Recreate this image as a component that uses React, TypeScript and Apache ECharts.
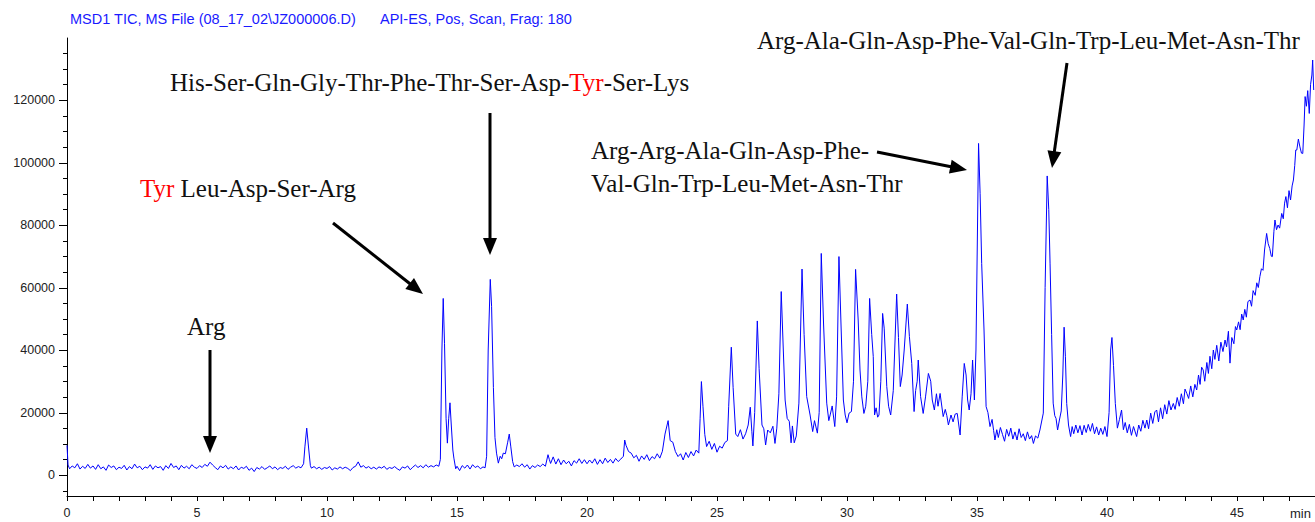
import React, { useEffect, useRef } from "react";
import * as echarts from "echarts";

// Total ion chromatogram, [retention time (min), intensity]
const ticSegmentA: [number, number][] = [
  [0.0, 9500], [0.04, 3200], [0.1, 2000], [0.2, 2900], [0.3, 2300], [0.4, 3600], [0.5, 1900], [0.6, 2800],
  [0.7, 2100], [0.8, 3400], [0.9, 2200], [1.0, 2900], [1.1, 1800], [1.2, 3300], [1.3, 2000], [1.4, 2600],
  [1.5, 1500], [1.6, 3200], [1.7, 2400], [1.8, 2900], [1.9, 1700], [2.0, 2500], [2.1, 2100], [2.2, 3100],
  [2.3, 1600], [2.4, 2700], [2.5, 2000], [2.6, 3500], [2.7, 2300], [2.8, 2800], [2.9, 1700], [3.0, 2600],
  [3.1, 2200], [3.2, 3300], [3.3, 1800], [3.4, 2900], [3.5, 2300], [3.6, 2700], [3.7, 1500], [3.8, 3000],
  [3.9, 2100], [4.0, 3700], [4.1, 2400], [4.2, 2900], [4.3, 1700], [4.4, 3100], [4.5, 2200], [4.6, 2800],
  [4.7, 2000], [4.8, 3300], [4.9, 2500], [5.0, 2100], [5.1, 3000], [5.2, 2400], [5.3, 3400], [5.4, 2800],
  [5.5, 4100], [5.6, 3200], [5.7, 2400], [5.8, 1700], [5.9, 2900], [6.0, 2300], [6.1, 3100], [6.2, 1900],
  [6.3, 2600], [6.4, 2000], [6.5, 2900], [6.6, 1600], [6.7, 2500], [6.8, 2100], [6.9, 2800], [7.0, 1500],
  [7.1, 2200], [7.2, 1100], [7.3, 2400], [7.4, 1900], [7.5, 2700], [7.6, 1800], [7.7, 2300], [7.8, 2900],
  [7.9, 2000], [8.0, 2600], [8.1, 1700], [8.2, 2400], [8.3, 2100], [8.4, 2800], [8.5, 1800], [8.6, 2500],
  [8.7, 3000], [8.8, 2200], [8.9, 2700], [9.0, 2300], [9.1, 3600], [9.15, 9000], [9.22, 15000], [9.3, 8000],
  [9.36, 3000], [9.4, 2200], [9.5, 2700], [9.6, 2000], [9.7, 2500], [9.8, 1800], [9.9, 2400], [10.0, 2100],
  [10.1, 2700], [10.2, 1600], [10.3, 2300], [10.4, 1900], [10.5, 2600], [10.6, 2000], [10.7, 2500], [10.8, 2100],
  [10.9, 1400], [11.0, 2400], [11.1, 2800], [11.2, 4200], [11.3, 2500], [11.4, 3000], [11.5, 2200], [11.6, 2700],
  [11.7, 2000], [11.8, 2500], [11.9, 1900], [12.0, 2600], [12.1, 2200], [12.2, 2800], [12.3, 1800], [12.4, 2400],
  [12.5, 2100], [12.6, 2700], [12.7, 2000], [12.8, 1500], [12.9, 2600], [13.0, 2200], [13.1, 2900], [13.2, 1700],
  [13.3, 2500], [13.4, 3200], [13.5, 2400], [13.6, 3000], [13.7, 2300], [13.8, 3300], [13.9, 2500], [14.0, 3000],
  [14.1, 2600], [14.2, 3200], [14.3, 2800],
];

const ticSegmentB: [number, number][] = [
  [14.36, 5000], [14.42, 40000], [14.47, 56500], [14.52, 42000], [14.58, 18000], [14.63, 10200], [14.68, 18000],
  [14.73, 23100], [14.78, 16000], [14.84, 8000], [14.88, 5400], [14.95, 2000], [15.0, 2800], [15.1, 1400],
  [15.2, 3000], [15.3, 2200], [15.4, 3200], [15.5, 1900], [15.6, 3300], [15.7, 2400], [15.8, 2900], [15.9, 2000],
  [16.0, 2600], [16.08, 2300], [16.14, 6000], [16.2, 40000], [16.28, 62600], [16.33, 54000], [16.4, 28000],
  [16.46, 12000], [16.52, 7000], [16.59, 3800], [16.66, 6000], [16.72, 5200], [16.78, 7000], [16.86, 6800],
  [16.95, 10500], [17.01, 13100], [17.07, 9000], [17.14, 4300], [17.2, 2600], [17.3, 3200], [17.4, 2700],
  [17.5, 3600], [17.6, 2500], [17.7, 3300], [17.8, 1900], [17.9, 3000], [18.0, 2400], [18.1, 3200], [18.2, 2700],
  [18.3, 3500], [18.4, 2800], [18.5, 6500], [18.55, 5000], [18.6, 3700], [18.7, 5800], [18.8, 3500], [18.9, 5200],
  [19.0, 3300], [19.1, 4800], [19.2, 3600], [19.3, 4400], [19.4, 2900], [19.5, 4600], [19.6, 3800], [19.7, 5200],
  [19.8, 3700], [19.9, 4900],
];

const ticSegmentC: [number, number][] = [
  [20.0, 3600], [20.1, 4800], [20.2, 3800], [20.3, 5200], [20.4, 3400], [20.5, 4900], [20.6, 3600], [20.7, 5400],
  [20.8, 4000], [20.9, 5000], [21.0, 3800], [21.1, 5300], [21.2, 4300], [21.3, 5100], [21.4, 6000], [21.45, 11200],
  [21.5, 9500], [21.6, 7500], [21.7, 7000], [21.8, 5500], [21.9, 6300], [22.0, 4400], [22.1, 6100], [22.2, 5000],
  [22.3, 6500], [22.4, 4600], [22.5, 5900], [22.6, 5200], [22.7, 6800], [22.8, 5400], [22.9, 7600], [23.0, 13100],
  [23.12, 17400], [23.2, 11000], [23.3, 10500], [23.4, 7500], [23.5, 5900], [23.6, 6800], [23.7, 4800],
  [23.8, 7200], [23.9, 5600], [24.0, 7500], [24.1, 6100], [24.2, 8000], [24.3, 7000], [24.35, 18000],
  [24.4, 29900], [24.46, 22000], [24.53, 13000], [24.6, 9100], [24.7, 10800], [24.8, 8200], [24.9, 10100],
  [25.0, 7300], [25.1, 9200], [25.2, 8600], [25.3, 10400], [25.4, 11000], [25.45, 22000], [25.55, 40900],
  [25.62, 28000], [25.72, 13100], [25.8, 12300], [25.9, 14500], [26.0, 11500], [26.1, 13200], [26.2, 16000],
  [26.28, 21700], [26.34, 14000], [26.38, 9300], [26.45, 20000], [26.55, 49300], [26.62, 34000], [26.73, 16000],
  [26.8, 14800], [26.87, 9600], [26.95, 14400], [27.05, 13500], [27.15, 15600], [27.23, 10100], [27.3, 15000],
  [27.38, 26000], [27.47, 58700], [27.55, 40000], [27.62, 24000], [27.7, 18100], [27.78, 17200], [27.85, 10300],
  [27.9, 15700], [27.97, 10300], [28.05, 12500], [28.15, 23000], [28.27, 65900], [28.35, 45000], [28.45, 25100],
  [28.58, 19200], [28.68, 13900], [28.75, 17400], [28.86, 13400], [28.93, 20000], [29.01, 70900], [29.1, 48000],
  [29.22, 23000], [29.3, 17400], [29.36, 19500], [29.43, 22100], [29.53, 15500], [29.6, 25000], [29.69, 69900],
  [29.77, 48000], [29.86, 24000], [29.93, 19200],
];

const ticSegmentD: [number, number][] = [
  [30.0, 16700], [30.08, 19800], [30.17, 20300], [30.25, 30000], [30.33, 65800], [30.43, 49600], [30.5, 33600],
  [30.57, 25000], [30.65, 19700], [30.72, 22000], [30.8, 30000], [30.87, 56500], [30.95, 45000], [31.01, 37900],
  [31.06, 19200], [31.12, 21500], [31.18, 18500], [31.23, 19200], [31.3, 30000], [31.37, 51700], [31.43, 47000],
  [31.53, 28300], [31.6, 22000], [31.68, 19200], [31.78, 27000], [31.91, 57900], [31.98, 44000], [32.05, 28300],
  [32.12, 32000], [32.2, 40000], [32.32, 54700], [32.4, 44300], [32.49, 35700], [32.58, 20300], [32.64, 27000],
  [32.7, 30000], [32.74, 36800], [32.83, 25100], [32.93, 19700], [33.02, 25000], [33.13, 32500], [33.22, 30000],
  [33.28, 24000], [33.36, 20800], [33.44, 26000], [33.5, 22000], [33.58, 26100], [33.7, 18700], [33.78, 21000],
  [33.84, 19000], [33.9, 16000], [34.0, 19200], [34.08, 17000], [34.16, 19500], [34.24, 19700], [34.35, 12800],
  [34.43, 25000], [34.51, 35700], [34.58, 32000], [34.64, 24000], [34.7, 20800], [34.77, 26000], [34.83, 36800],
  [34.9, 24000], [34.96, 40000], [35.06, 106100], [35.12, 90000], [35.18, 67700], [35.27, 46400], [35.35, 21900],
  [35.42, 20000], [35.5, 15500], [35.58, 17800], [35.64, 14200], [35.69, 11200], [35.76, 14500], [35.82, 12000],
  [35.9, 15200], [35.98, 13000], [36.06, 10800], [36.14, 14600], [36.22, 12400], [36.3, 15000], [36.38, 11500],
  [36.46, 13800], [36.54, 11200], [36.62, 14800], [36.7, 12000], [36.78, 13200], [36.86, 11000], [36.94, 13800],
  [37.02, 11500], [37.1, 12600], [37.17, 10100], [37.25, 12500], [37.34, 11800], [37.42, 14400], [37.55, 19800],
  [37.62, 60000], [37.7, 95700], [37.76, 85000], [37.81, 67800], [37.87, 45000], [37.93, 23000], [37.99, 19000],
  [38.04, 18100], [38.1, 14400], [38.17, 17600], [38.24, 20500], [38.3, 32000], [38.35, 47300], [38.4, 38000],
  [38.45, 22900], [38.52, 16000], [38.6, 12300], [38.66, 15500], [38.72, 13200], [38.8, 16000], [38.88, 13500],
  [38.96, 15800], [39.04, 12800], [39.12, 15900], [39.2, 13600], [39.28, 16200], [39.36, 14000], [39.44, 16500],
  [39.52, 13200], [39.6, 15400], [39.68, 12800], [39.76, 15000], [39.84, 13000], [39.92, 15500],
];

const ticSegmentE: [number, number][] = [
  [40.0, 12300], [40.08, 20000], [40.14, 40000], [40.19, 44000], [40.25, 35000], [40.32, 22900], [40.4, 15000],
  [40.48, 17800], [40.56, 20800], [40.63, 14500], [40.7, 16800], [40.78, 13500], [40.86, 16200], [40.94, 12700],
  [41.02, 15500], [41.14, 12300], [41.22, 16000], [41.3, 14000], [41.38, 17500], [41.46, 15000], [41.53, 17600],
  [41.6, 14800], [41.68, 19800], [41.76, 16500], [41.84, 20200], [41.91, 20800], [41.98, 17000], [42.06, 21500],
  [42.14, 18000], [42.22, 22500], [42.3, 19500], [42.38, 23800], [42.46, 20800], [42.55, 22900], [42.62, 21000],
  [42.7, 24800], [42.78, 22000], [42.86, 26000], [42.94, 22800], [43.0, 27500], [43.07, 26100], [43.14, 24500],
  [43.22, 28500], [43.3, 25000], [43.38, 29000], [43.45, 27200], [43.52, 32000], [43.58, 29000], [43.64, 34500],
  [43.7, 33600], [43.76, 30000], [43.84, 36000], [43.9, 32500], [43.96, 38000], [44.03, 34000], [44.09, 40000],
  [44.15, 37000], [44.22, 41500], [44.3, 36500], [44.38, 42500], [44.46, 39500], [44.54, 43200], [44.6, 41000],
  [44.67, 46000], [44.73, 35800], [44.8, 44000], [44.88, 42000], [44.94, 47500], [44.99, 46400], [45.06, 49000],
  [45.12, 46500], [45.18, 51500], [45.24, 49600], [45.3, 53000], [45.36, 50500], [45.42, 55500], [45.5, 56000],
  [45.56, 54000], [45.62, 59000], [45.7, 57500], [45.76, 61500], [45.82, 60000], [45.88, 63500], [45.94, 66000],
  [46.0, 65500], [46.06, 72000], [46.14, 77300], [46.2, 74000], [46.26, 72500], [46.32, 70000], [46.36, 69900],
  [46.42, 78000], [46.46, 81600], [46.52, 78500], [46.58, 80000], [46.64, 79000], [46.72, 83700], [46.78, 82000],
  [46.83, 87000], [46.88, 89100], [46.94, 85500], [47.0, 91000], [47.06, 88000], [47.12, 92500], [47.17, 94400],
  [47.22, 99000], [47.26, 104000], [47.3, 104000], [47.36, 107500], [47.42, 105000], [47.48, 103000],
  [47.53, 102900], [47.58, 112000], [47.62, 121100], [47.67, 118000], [47.72, 123000], [47.78, 115700],
  [47.83, 125000], [47.88, 128000], [47.91, 132800], [47.95, 123200],
];

const yLabelValues = [0, 20000, 40000, 60000, 80000, 100000, 120000];
const yMinorTickValues = [-5000, 5000, 10000, 15000, 25000, 30000, 35000, 45000, 50000, 55000, 65000, 70000, 75000, 85000, 90000, 95000, 105000, 110000, 115000, 125000, 130000, 135000];

const titleLeft = "MSD1 TIC, MS File (08_17_02\\JZ000006.D)";
const titleRight = "API-ES, Pos, Scan, Frag: 180";

const SERIF = '"Liberation Serif", "Times New Roman", serif';
const SANS = '"Liberation Sans", Arial, sans-serif';

type Arrow = { x1: number; y1: number; x2: number; y2: number };
const arrows: Arrow[] = [
  { x1: 210, y1: 350, x2: 210, y2: 453 },
  { x1: 333, y1: 223, x2: 423, y2: 294 },
  { x1: 490, y1: 113, x2: 490, y2: 255 },
  { x1: 877, y1: 152, x2: 967, y2: 170 },
  { x1: 1067, y1: 63, x2: 1052, y2: 168 },
];

function arrowGraphics(a: Arrow) {
  const dx = a.x2 - a.x1;
  const dy = a.y2 - a.y1;
  const len = Math.sqrt(dx * dx + dy * dy);
  const ux = dx / len;
  const uy = dy / len;
  const headLen = 17;
  const headHalf = 7;
  const bx = a.x2 - ux * headLen;
  const by = a.y2 - uy * headLen;
  const px = -uy;
  const py = ux;
  return [
    {
      type: "line",
      shape: { x1: a.x1, y1: a.y1, x2: bx + ux * 2, y2: by + uy * 2 },
      style: { stroke: "#000", lineWidth: 3 },
      silent: true,
    },
    {
      type: "polygon",
      shape: {
        points: [
          [a.x2, a.y2],
          [bx + px * headHalf, by + py * headHalf],
          [bx - px * headHalf, by - py * headHalf],
        ],
      },
      style: { fill: "#000" },
      silent: true,
    },
  ];
}

function label(text: string, x: number, y: number, rich?: any) {
  return {
    type: "text",
    silent: true,
    style: {
      text,
      x,
      y,
      font: `25px ${SERIF}`,
      fill: "#111",
      align: "left",
      verticalAlign: "middle",
      rich,
    },
  };
}

const redRich = { r: { fill: "#ff0000", color: "#ff0000", font: `25px ${SERIF}` }, k: { fill: "#111", color: "#111", font: `25px ${SERIF}` } };

export default function App() {
  const ref = useRef<HTMLDivElement>(null);
  useEffect(() => {
    document.body.style.margin = "0";
    if (!ref.current) return;
    const chart = echarts.init(ref.current, null, { renderer: "svg" });
    const data = [...ticSegmentA, ...ticSegmentB, ...ticSegmentC, ...ticSegmentD, ...ticSegmentE];

    chart.setOption({
      animation: false,
      backgroundColor: "#fff",
      grid: { left: 67, right: 0, top: 38, bottom: 26, containLabel: false, outerBoundsMode: "none" },
      xAxis: {
        type: "value",
        min: 0,
        max: 48,
        interval: 1,
        axisLine: { show: true, onZero: false, lineStyle: { color: "#000", width: 1 } },
        axisTick: { show: true, length: 5, lineStyle: { color: "#000" } },
        axisLabel: {
          color: "#222",
          fontSize: 12.5,
          fontFamily: SANS,
          margin: 10,
          showMaxLabel: false,
          formatter: (v: number) => (v % 5 === 0 && v < 48 ? String(v) : ""),
        },
        splitLine: { show: false },
      },
      yAxis: {
        type: "value",
        min: -6720,
        max: 139840,
        position: "left",
        axisLine: { show: true, onZero: false, lineStyle: { color: "#000", width: 1 } },
        axisTick: { show: false },
        axisLabel: {
          customValues: yLabelValues,
          color: "#222",
          fontSize: 12.5,
          fontFamily: SANS,
          margin: 12,
          formatter: (v: number) => String(v),
        },
        splitLine: { show: false },
      },
      series: [
        {
          type: "line",
          data,
          showSymbol: false,
          symbol: "none",
          lineStyle: { color: "#0000ff", width: 1 },
          silent: true,
        },
      ],
    });

    const axisX = chart.convertToPixel({ xAxisIndex: 0 }, 0) as number;
    const graphics: any[] = [
      {
        type: "text",
        silent: true,
        style: { text: titleLeft, x: 70, y: 19, font: `14.5px ${SANS}`, fill: "#1a1aff", verticalAlign: "middle" },
      },
      {
        type: "text",
        silent: true,
        style: { text: titleRight, x: 380, y: 19, font: `14.5px ${SANS}`, fill: "#1a1aff", verticalAlign: "middle" },
      },
      {
        type: "text",
        silent: true,
        style: { text: "min", x: 1290, y: 513, font: `13px ${SANS}`, fill: "#222", verticalAlign: "middle" },
      },
      label("His-Ser-Gln-Gly-Thr-Phe-Thr-Ser-Asp-{r|Tyr}{k|-Ser-Lys}", 170, 82, redRich),
      label("{r|Tyr}{k| Leu-Asp-Ser-Arg}", 140, 188, redRich),
      label("Arg", 187, 326),
      label("Arg-Arg-Ala-Gln-Asp-Phe-", 591, 150),
      label("Val-Gln-Trp-Leu-Met-Asn-Thr", 591, 183),
      label("Arg-Ala-Gln-Asp-Phe-Val-Gln-Trp-Leu-Met-Asn-Thr", 757, 40),
    ];
    const tick = (v: number, len: number) => {
      const py = Math.round(chart.convertToPixel({ yAxisIndex: 0 }, v) as number) + 0.5;
      return {
        type: "line",
        silent: true,
        shape: { x1: axisX - len, y1: py, x2: axisX, y2: py },
        style: { stroke: "#000", lineWidth: 1 },
      };
    };
    yLabelValues.forEach((v) => graphics.push(tick(v, 8)));
    yMinorTickValues.forEach((v) => graphics.push(tick(v, 4)));
    arrows.forEach((a) => graphics.push(...arrowGraphics(a)));

    chart.setOption({ graphic: graphics });
    return () => chart.dispose();
  }, []);
  return <div ref={ref} style={{ width: 1315, height: 522 }} />;
}
